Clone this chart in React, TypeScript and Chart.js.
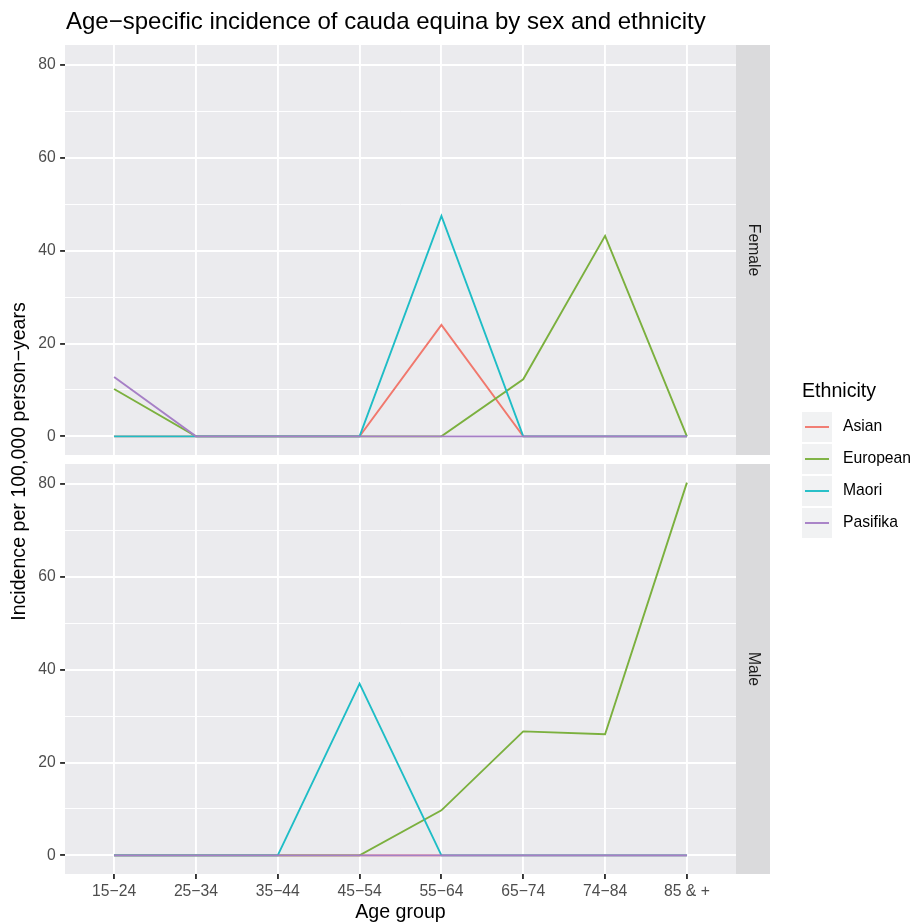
import React, { useEffect, useRef } from 'react';
import { Chart, registerables } from 'chart.js';

Chart.register(...registerables);

// ---------- data ----------
const ageGroups = ['15−24', '25−34', '35−44', '45−54', '55−64', '65−74', '74−84', '85 & +'];
const ethnicities = ['Asian', 'European', 'Maori', 'Pasifika'];
const ethnicityColors = ['#F1786D', '#7BB03E', '#1EBDC6', '#A67FC6'];

const femaleAsian = [0, 0, 0, 0, 24.0, 0, 0, 0];
const femaleEuropean = [10.2, 0, 0, 0, 0, 12.3, 43.2, 0];
const femaleMaori = [0, 0, 0, 0, 47.5, 0, 0, 0];
const femalePasifika = [12.8, 0, 0, 0, 0, 0, 0, 0];

const maleAsian = [0, 0, 0, 0, 0, 0, 0, 0];
const maleEuropean = [0, 0, 0, 0, 9.7, 26.7, 26.1, 80.3];
const maleMaori = [0, 0, 0, 37.0, 0, 0, 0, 0];
const malePasifika = [0, 0, 0, 0, 0, 0, 0, 0];

const yTickValues = [0, 10, 20, 30, 40, 50, 60, 70, 80];
const yMajorTicks = [0, 20, 40, 60, 80];

const titleText = 'Age−specific incidence of cauda equina by sex and ethnicity';
const xTitle = 'Age group';
const yTitle = 'Incidence per 100,000 person−years';
const legendTitle = 'Ethnicity';
const panelLabels = ['Female', 'Male'];

// ---------- style ----------
const FONT = '"Liberation Sans", Arial, Helvetica, sans-serif';
const W = 915;
const H = 923;
const PANEL_LEFT = 65;
const PANEL_RIGHT = 736;
const F_TOP = 45;
const F_BOTTOM = 455;
const M_TOP = 464;
const M_BOTTOM = 874;
const STRIP_W = 34;

function buildDatasets(series: number[][]) {
  return series.map((vals, k) => ({
    label: ethnicities[k],
    data: vals.map((y, i) => ({ x: i, y })),
    borderColor: ethnicityColors[k],
    backgroundColor: ethnicityColors[k],
    borderWidth: 1.9,
    pointRadius: 0,
    pointHoverRadius: 0,
    tension: 0,
    fill: false,
    order: series.length - 1 - k,
  }));
}

function stripPlugin(label: string) {
  return {
    id: 'panelStrip',
    beforeDraw(chart: any) {
      const { ctx, chartArea: a } = chart;
      ctx.save();
      ctx.fillStyle = '#EBEBEE';
      ctx.fillRect(a.left, a.top, a.right - a.left, a.bottom - a.top);
      ctx.fillStyle = '#DADADC';
      ctx.fillRect(a.right, a.top, STRIP_W, a.bottom - a.top);
      ctx.translate(a.right + STRIP_W / 2, (a.top + a.bottom) / 2);
      ctx.rotate(Math.PI / 2);
      ctx.fillStyle = '#1A1A1A';
      ctx.font = `15.7px ${FONT}`;
      ctx.textAlign = 'center';
      ctx.textBaseline = 'middle';
      ctx.fillText(label, 0, 0);
      ctx.restore();
    },
  };
}

const decorPlugin = {
  id: 'decor',
  afterDraw(chart: any) {
    const { ctx } = chart;
    ctx.save();
    // plot title
    ctx.fillStyle = '#000';
    ctx.font = `24px ${FONT}`;
    ctx.textAlign = 'left';
    ctx.textBaseline = 'middle';
    ctx.fillText(titleText, PANEL_LEFT + 1, 22);
    // y title
    ctx.save();
    ctx.translate(20, (F_TOP + M_BOTTOM) / 2 + 2);
    ctx.rotate(-Math.PI / 2);
    ctx.font = `19.6px ${FONT}`;
    ctx.textAlign = 'center';
    ctx.textBaseline = 'middle';
    ctx.fillText(yTitle, 0, 0);
    ctx.restore();
    // x title
    ctx.font = `19.6px ${FONT}`;
    ctx.textAlign = 'center';
    ctx.textBaseline = 'middle';
    ctx.fillText(xTitle, (PANEL_LEFT + PANEL_RIGHT) / 2, 913);
    // legend
    const lx = 802;
    ctx.textAlign = 'left';
    ctx.font = `19.6px ${FONT}`;
    ctx.fillText(legendTitle, lx, 392);
    ctx.font = `15.7px ${FONT}`;
    ethnicities.forEach((name, i) => {
      const top = 412 + i * 32;
      ctx.fillStyle = '#F1F2F3';
      ctx.fillRect(lx, top, 30, 30);
      ctx.strokeStyle = ethnicityColors[i];
      ctx.lineWidth = 1.9;
      ctx.beginPath();
      ctx.moveTo(lx + 3, top + 15);
      ctx.lineTo(lx + 27, top + 15);
      ctx.stroke();
      ctx.fillStyle = '#000';
      ctx.fillText(name, 843, top + 15);
    });
    ctx.restore();
  },
};

function makeOptions(showX: boolean, padTop: number, padBottom: number, xHeight: number) {
  return {
    responsive: false,
    animation: false as const,
    events: [] as any[],
    layout: { padding: { top: padTop, left: 0, right: W - PANEL_RIGHT, bottom: padBottom } },
    plugins: { legend: { display: false }, tooltip: { enabled: false }, title: { display: false } },
    scales: {
      x: {
        type: 'linear' as const,
        min: -0.6,
        max: ageGroups.length - 1 + 0.6,
        afterBuildTicks: (s: any) => {
          s.ticks = ageGroups.map((_, i) => ({ value: i }));
        },
        afterFit: (s: any) => {
          s.height = xHeight;
        },
        ticks: {
          display: showX,
          autoSkip: false,
          maxRotation: 0,
          minRotation: 0,
          padding: 3.5,
          color: '#4D4D4D',
          font: { family: FONT, size: 15.7 },
          callback: (_v: any, i: number) => ageGroups[i],
        },
        grid: {
          color: '#FFFFFF',
          lineWidth: 1.9,
          drawTicks: showX,
          tickLength: 4.9,
          tickColor: '#333333',
          tickWidth: 1.9,
        },
        border: { display: false },
      },
      y: {
        type: 'linear' as const,
        min: -4.02,
        max: 84.32,
        afterBuildTicks: (s: any) => {
          s.ticks = yTickValues.map((v) => ({ value: v }));
        },
        afterFit: (s: any) => {
          s.width = PANEL_LEFT;
        },
        ticks: {
          padding: 4.5,
          color: '#4D4D4D',
          font: { family: FONT, size: 15.7 },
          callback: (v: any) => (yMajorTicks.includes(v) ? String(v) : ''),
        },
        grid: {
          color: '#FFFFFF',
          lineWidth: (c: any) => (c.tick && yMajorTicks.includes(c.tick.value) ? 1.9 : 0.95),
          drawTicks: true,
          tickLength: 4.9,
          tickColor: (c: any) => (c.tick && yMajorTicks.includes(c.tick.value) ? '#333333' : 'rgba(0,0,0,0)'),
          tickWidth: 1.9,
        },
        border: { display: false },
      },
    },
  };
}

export default function App() {
  const femaleRef = useRef<HTMLCanvasElement>(null);
  const maleRef = useRef<HTMLCanvasElement>(null);

  useEffect(() => {
    const female = new Chart(femaleRef.current as HTMLCanvasElement, {
      type: 'line',
      data: { datasets: buildDatasets([femaleAsian, femaleEuropean, femaleMaori, femalePasifika]) as any },
      options: makeOptions(false, F_TOP, H - F_BOTTOM, 0) as any,
      plugins: [stripPlugin(panelLabels[0]), decorPlugin],
    });
    const male = new Chart(maleRef.current as HTMLCanvasElement, {
      type: 'line',
      data: { datasets: buildDatasets([maleAsian, maleEuropean, maleMaori, malePasifika]) as any },
      options: makeOptions(true, M_TOP, 0, H - M_BOTTOM) as any,
      plugins: [stripPlugin(panelLabels[1])],
    });
    return () => {
      female.destroy();
      male.destroy();
    };
  }, []);

  const canvasStyle: React.CSSProperties = { position: 'absolute', left: 0, top: 0, width: W, height: H };
  return (
    <div style={{ position: 'absolute', left: 0, top: 0, width: W, height: H, background: '#fff' }}>
      <canvas ref={femaleRef} width={W} height={H} style={canvasStyle} />
      <canvas ref={maleRef} width={W} height={H} style={canvasStyle} />
    </div>
  );
}
